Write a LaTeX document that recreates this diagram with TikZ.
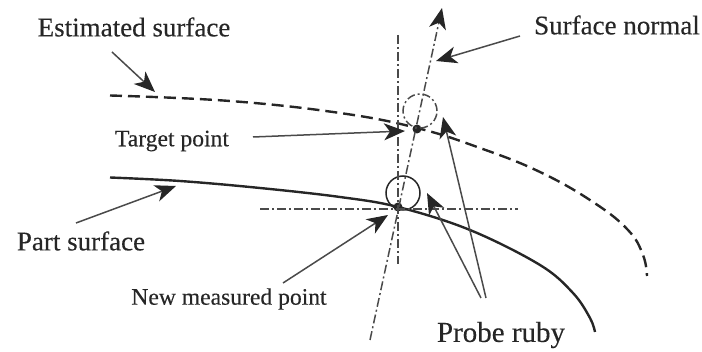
\documentclass[tikz,border=0pt]{standalone}
\usepackage{fontspec}
\setmainfont{Liberation Serif}[FakeBold=0.25]
\usetikzlibrary{arrows.meta}
\definecolor{ink}{HTML}{262626}
\definecolor{thinink}{HTML}{4A4A4A}
\tikzset{
  big/.style={font=\fontsize{27}{30}\selectfont,text=ink,inner sep=0pt},
  small/.style={font=\fontsize{23.6}{26}\selectfont,text=ink,inner sep=0pt},
  ruby/.style={font=\fontsize{29}{32}\selectfont,text=ink,inner sep=0pt},
  pointer/.style={draw=thinink,line width=1.5pt,-{Stealth[length=21pt,width=17pt,inset=6pt,color=ink]}},
  axis/.style={draw=thinink,line width=1.5pt,dash pattern=on 9pt off 3pt on 2pt off 3pt},
  estimated/.style={draw=ink,line width=2.4pt,dash pattern=on 12pt off 6pt},
  part/.style={draw=ink,line width=2.4pt},
  spot/.style={circle,fill=ink,minimum size=9pt,inner sep=0pt},
  ball/.style={circle,minimum size=34pt,inner sep=0pt,line width=1.5pt}
}
\begin{document}
\begin{tikzpicture}[x=1pt,y=-1pt]
\useasboundingbox (0,0) rectangle (702,352);
% labels
\node[big] (est) at (134,27) {Estimated surface};
\node[big] (nor) at (617,25) {Surface normal};
\node[small] (tar) at (172,141) {Target point};
\node[big] (par) at (81,241) {Part surface};
\node[small] (new) at (229,299) {New measured point};
\node[ruby] (rub) at (501,335) {Probe ruby};
% points
\node[spot] (tp) at (417,129) {};
\node[spot] (mp) at (398,207) {};
% surfaces
\draw[estimated] plot[smooth,tension=0.7] coordinates {(110,95.5) (230,101) (340,113) (417,128) (480,148) (540,172) (593,202) (628,230) (643,255) (647,276)};
\draw[part] plot[smooth,tension=0.6] coordinates {(110,177.5) (180,181) (260,188) (340,197) (398,207) (470,230) (540,265) (573,293) (590,318) (595,332)};
% probe balls
\node[ball,draw=thinink,dash pattern=on 8pt off 3pt on 2pt off 3pt] (bt) at (420,111) {};
\node[ball,draw=ink] (bm) at (403,193) {};
% axes
\coordinate (vt) at (398,35); \coordinate (vb) at (398,264);
\coordinate (hl) at (260,209); \coordinate (hr) at (518,209);
\coordinate (nb) at (370,340); \coordinate (nt) at (442,8);
\draw[axis] (vt) -- (vb);
\draw[axis] (hl) -- (hr);
\draw[axis,-{Stealth[length=21pt,width=17pt,inset=6pt,color=ink]}] (nb) -- (nt);
% pointers
\coordinate (a1) at (112,52); \coordinate (a1t) at (155,92);
\coordinate (a2) at (520,36); \coordinate (a2t) at (436,61);
\coordinate (a3) at (253,137); \coordinate (a3t) at (405,131);
\coordinate (a4) at (76,223); \coordinate (a4t) at (176,186);
\coordinate (a5) at (283,283); \coordinate (a5t) at (388,215);
\coordinate (a6) at (486,298); \coordinate (a6t) at (443,117);
\coordinate (a7) at (481,298); \coordinate (a7t) at (427,193);
\draw[pointer] (a1) -- (a1t);
\draw[pointer] (a2) -- (a2t);
\draw[pointer] (a3) -- (a3t);
\draw[pointer] (a4) -- (a4t);
\draw[pointer] (a5) -- (a5t);
\draw[pointer] (a6) -- (a6t);
\draw[pointer] (a7) -- (a7t);
\end{tikzpicture}
\end{document}
